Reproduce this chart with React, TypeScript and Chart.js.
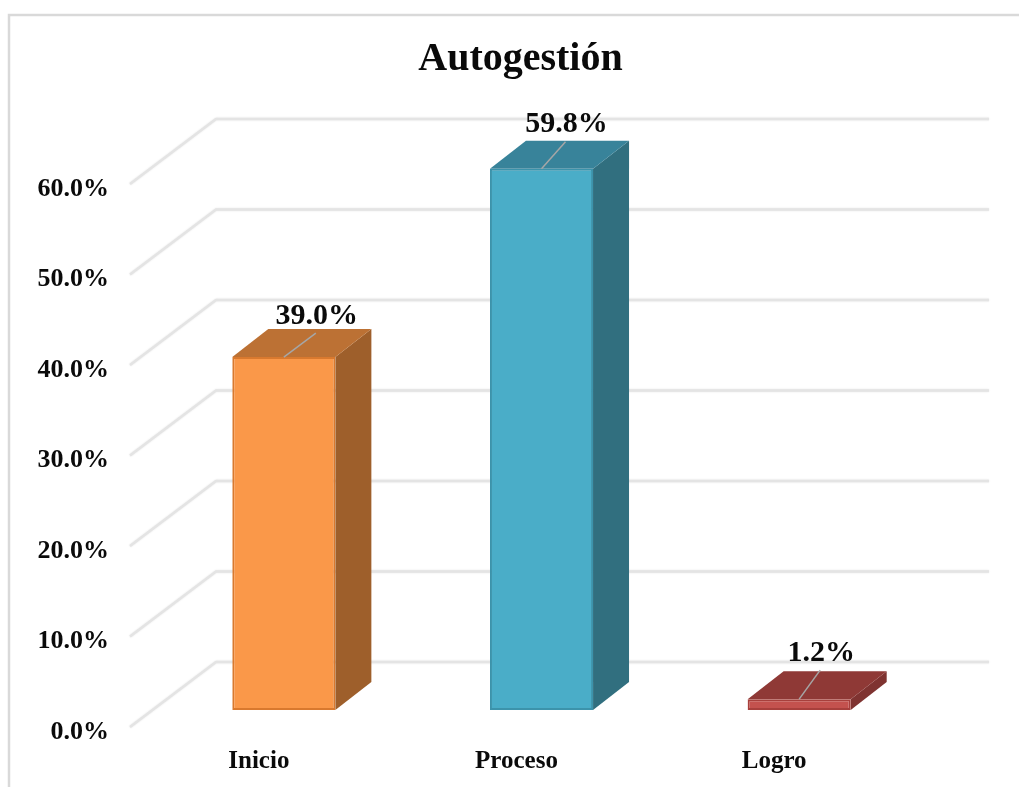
import React, { useEffect, useRef } from "react";
import { Chart, registerables } from "chart.js";

Chart.register(...registerables);

const categories = ["Inicio", "Proceso", "Logro"];
const values = [39.0, 59.8, 1.2];
const valueLabels = ["39.0%", "59.8%", "1.2%"];
const titleText = "Autogestión";
const axisMax = 60;
const axisStep = 10;

const frontColors = ["#FA9849", "#4AADC8", "#C4524E"];
const borderColors = ["#D9792E", "#3C93AB", "#A8403C"];
const topColors = ["#BC7134", "#38839A", "#8F3936"];
const sideColors = ["#9E5F2B", "#316F7F", "#7F3331"];
const labelOffsets = [
  { lineX: 32, lineY: -24, textX: 33, textY: -41 },
  { lineX: 24, lineY: -27, textX: 25, textY: -45 },
  { lineX: 21, lineY: -29, textX: 22, textY: -46 },
];

const SERIF = '"Liberation Serif", serif';
const DEPTH_X = 36;
const DEPTH_Y = 28;
const WALL_X = 61;
const WALL_Y = 48;
const FLOOR_X = 25;
const FLOOR_Y = 17;

const wallPlugin = {
  id: "wall",
  beforeDatasetsDraw(chart: any) {
    const { ctx, chartArea, scales } = chart;
    ctx.save();
    // outer frame
    ctx.strokeStyle = "#d9d9d9";
    ctx.lineWidth = 2.5;
    ctx.beginPath();
    ctx.moveTo(9, chart.height);
    ctx.lineTo(9, 15);
    ctx.lineTo(chart.width, 15);
    ctx.stroke();
    // grid lines on the back wall and the side wall
    ctx.strokeStyle = "#e4e4e4";
    ctx.shadowColor = "#e4e4e4";
    ctx.shadowBlur = 2;
    ctx.lineWidth = 2.5;
    ctx.lineJoin = "round";
    scales.y.ticks.forEach((t: any) => {
      const y = scales.y.getPixelForValue(t.value);
      ctx.beginPath();
      ctx.moveTo(chartArea.left - FLOOR_X, y + FLOOR_Y);
      ctx.lineTo(chartArea.left + WALL_X, y - WALL_Y);
      ctx.lineTo(chartArea.right + WALL_X, y - WALL_Y);
      ctx.stroke();
    });
    ctx.restore();
  },
  beforeDatasetDraw(chart: any) {
    const { ctx } = chart;
    const meta = chart.getDatasetMeta(0);
    ctx.save();
    meta.data.forEach((bar: any, i: number) => {
      const right = bar.x + bar.width / 2;
      const left = bar.x - bar.width / 2;
      ctx.fillStyle = sideColors[i];
      ctx.beginPath();
      ctx.moveTo(right, bar.y);
      ctx.lineTo(right + DEPTH_X, bar.y - DEPTH_Y);
      ctx.lineTo(right + DEPTH_X, bar.base - DEPTH_Y);
      ctx.lineTo(right, bar.base);
      ctx.closePath();
      ctx.fill();
      ctx.fillStyle = topColors[i];
      ctx.beginPath();
      ctx.moveTo(left, bar.y);
      ctx.lineTo(left + DEPTH_X, bar.y - DEPTH_Y);
      ctx.lineTo(right + DEPTH_X, bar.y - DEPTH_Y);
      ctx.lineTo(right, bar.y);
      ctx.closePath();
      ctx.fill();
    });
    ctx.restore();
  },
  afterDatasetsDraw(chart: any) {
    const { ctx } = chart;
    const meta = chart.getDatasetMeta(0);
    ctx.save();
    meta.data.forEach((bar: any, i: number) => {
      const o = labelOffsets[i];
      ctx.strokeStyle = "#a6a6a6";
      ctx.lineWidth = 1.5;
      ctx.beginPath();
      ctx.moveTo(bar.x, bar.y);
      ctx.lineTo(bar.x + o.lineX, bar.y + o.lineY);
      ctx.stroke();
      ctx.fillStyle = "#0a0a0a";
      ctx.font = `bold 30px ${SERIF}`;
      ctx.textAlign = "center";
      ctx.textBaseline = "middle";
      ctx.fillText(valueLabels[i], bar.x + o.textX, bar.y + o.textY);
    });
    ctx.restore();
  },
};

export default function App() {
  const ref = useRef<HTMLCanvasElement>(null);
  useEffect(() => {
    const chart = new Chart(ref.current as HTMLCanvasElement, {
      type: "bar",
      data: {
        labels: categories,
        datasets: [
          {
            data: values,
            backgroundColor: frontColors,
            borderColor: borderColors,
            borderWidth: 2,
            borderSkipped: false,
            barPercentage: 0.4,
            categoryPercentage: 1,
          },
        ],
      },
      options: {
        animation: false,
        responsive: false,
        layout: { padding: { left: 22, right: 0, top: 0, bottom: 0 } },
        plugins: {
          legend: { display: false },
          tooltip: { enabled: false },
          title: {
            display: true,
            text: titleText,
            color: "#0a0a0a",
            font: { family: SERIF, size: 40, weight: "bold" },
            padding: { top: 36, bottom: 83 },
          },
        },
        scales: {
          x: {
            grid: { display: false },
            border: { display: false },
            afterFit(scale: any) {
              scale.height = 77;
            },
            ticks: {
              color: "#0a0a0a",
              font: { family: SERIF, size: 25, weight: "bold" },
              labelOffset: -25,
              padding: 29,
              maxRotation: 0,
            },
          },
          y: {
            min: 0,
            max: axisMax,
            grid: { display: false, drawTicks: false },
            border: { display: false },
            afterFit(scale: any) {
              scale.width = 133;
            },
            ticks: {
              stepSize: axisStep,
              color: "#0a0a0a",
              font: { family: SERIF, size: 26, weight: "bold" },
              padding: 46,
              labelOffset: 22,
              callback: (v: any) => Number(v).toFixed(1) + "%",
            },
          },
          yRight: {
            position: "right",
            min: 0,
            max: axisMax,
            grid: { display: false, drawTicks: false },
            border: { display: false },
            ticks: { display: false },
            afterFit(scale: any) {
              scale.width = 91;
            },
          },
        },
      } as any,
      plugins: [wallPlugin],
    });
    return () => chart.destroy();
  }, []);
  return (
    <div style={{ position: "fixed", left: 0, top: 0, width: 1019, height: 787, background: "#fff" }}>
      <canvas ref={ref} width={1019} height={787} style={{ display: "block" }} />
    </div>
  );
}
